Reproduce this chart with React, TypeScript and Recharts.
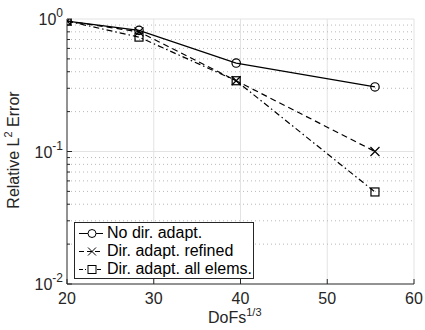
import React from "react";
import { LineChart, Line, XAxis, YAxis, ReferenceLine, Legend } from "recharts";

const dofs = [20, 28.3, 39.5, 55.5];
const noDirAdapt = [0.965, 0.82, 0.465, 0.307];
const dirAdaptRefined = [0.965, 0.8, 0.342, 0.1];
const dirAdaptAll = [0.965, 0.73, 0.342, 0.0495];

const xTicks = [20, 30, 40, 50, 60];
const xGrid = [30, 40, 50];
const yMajor = [0.01, 0.1, 1];
const yMinor = [0.02, 0.03, 0.04, 0.05, 0.06, 0.07, 0.08, 0.09, 0.2, 0.3, 0.4, 0.5, 0.6, 0.7, 0.8, 0.9];
const yTicks = [...yMajor, ...yMinor].sort((a, b) => a - b);

const data = dofs.map((x, i) => ({
  x,
  a: noDirAdapt[i],
  b: dirAdaptRefined[i],
  c: dirAdaptAll[i],
}));

const FONT = "'Liberation Sans', Arial, Helvetica, sans-serif";
const AXIS = "#262626";
const GRID = "#e3e3e3";
const FS = 16;

const CircleDot = (p: any) => (
  <circle key={`a${p.index}`} cx={p.cx} cy={p.cy} r={4.2} fill="none" stroke="#000" strokeWidth={1.2} />
);
const CrossDot = (p: any) => (
  <path
    key={`b${p.index}`}
    d={`M${p.cx - 4.5},${p.cy - 4.5}L${p.cx + 4.5},${p.cy + 4.5}M${p.cx - 4.5},${p.cy + 4.5}L${p.cx + 4.5},${p.cy - 4.5}`}
    stroke="#000"
    strokeWidth={1.2}
    fill="none"
  />
);
const SquareDot = (p: any) => (
  <rect key={`c${p.index}`} x={p.cx - 4} y={p.cy - 4} width={8} height={8} fill="none" stroke="#000" strokeWidth={1.2} />
);

const XTick = (p: any) => {
  const { x, y, payload } = p;
  return (
    <g>
      <line x1={x} y1={y} x2={x} y2={y - 5} stroke={AXIS} strokeWidth={1} />
      <text x={x} y={y + 20} textAnchor="middle" fontFamily={FONT} fontSize={FS} fill="#262626">
        {payload.value}
      </text>
    </g>
  );
};

const YTick = (p: any) => {
  const { x, y, payload } = p;
  const v = payload.value;
  const isMajor = yMajor.some((m) => Math.abs(m - v) < 1e-9);
  const exp = Math.round(Math.log10(v));
  return (
    <g>
      <line x1={x} y1={y} x2={x + (isMajor ? 5 : 3)} y2={y} stroke={AXIS} strokeWidth={1} />
      {isMajor && (
        <text x={x - 4} y={y + 6} textAnchor="end" fontFamily={FONT} fontSize={FS} fill="#262626">
          <tspan>10</tspan>
          <tspan dy={-8} fontSize={12}>{exp}</tspan>
        </text>
      )}
    </g>
  );
};

const LegendContent = () => {
  const rows = [
    { label: "No dir. adapt.", dash: undefined as string | undefined, marker: "circle" },
    { label: "Dir. adapt. refined", dash: "5 3", marker: "cross" },
    { label: "Dir. adapt. all elems.", dash: "4 2 1 2", marker: "square" },
  ];
  return (
    <div
      style={{
        border: "1px solid #262626",
        background: "#fff",
        width: 180,
        height: 57,
        boxSizing: "border-box",
        padding: "1px 0 0 0",
        fontFamily: FONT,
        fontSize: FS,
        color: "#000",
      }}
    >
      {rows.map((r) => (
        <div key={r.label} style={{ display: "flex", alignItems: "center", height: 18, lineHeight: "18px" }}>
          <svg width={32} height={18} style={{ flex: "none" }}>
            <line x1={4} y1={9.5} x2={28} y2={9.5} stroke="#000" strokeWidth={1} strokeDasharray={r.dash} />
            {r.marker === "circle" && <circle cx={17} cy={9.5} r={4} fill="#fff" stroke="#000" />}
            {r.marker === "cross" && (
              <path d="M13,5.5L21,13.5M13,13.5L21,5.5" stroke="#000" fill="none" />
            )}
            {r.marker === "square" && <rect x={13} y={5.5} width={8} height={8} fill="#fff" stroke="#000" />}
          </svg>
          <span style={{ whiteSpace: "nowrap" }}>{r.label}</span>
        </div>
      ))}
    </div>
  );
};

export default function App() {
  return (
    <div style={{ position: "absolute", left: 0, top: 0, width: 425, height: 330, background: "#fff" }}>
      <LineChart width={425} height={330} data={data} margin={{ top: 19, right: 11, bottom: 16, left: 27 }}>
        {xGrid.map((v) => (
          <ReferenceLine key={`gx${v}`} x={v} stroke={GRID} strokeWidth={1} />
        ))}
        {yMinor.map((v) => (
          <ReferenceLine key={`gm${v}`} y={v} stroke="#b8b8b8" strokeWidth={1} strokeDasharray="1 3" />
        ))}
        <ReferenceLine y={0.1} stroke={GRID} strokeWidth={1} />
        <ReferenceLine y={1} stroke={GRID} strokeWidth={1} />
        <ReferenceLine x={60} stroke={GRID} strokeWidth={1} />
        <XAxis
          dataKey="x"
          type="number"
          domain={[20, 60]}
          ticks={xTicks}
          allowDataOverflow
          height={30}
          tickSize={0}
          tickMargin={0}
          tickLine={false}
          stroke={AXIS}
          tick={<XTick />}
          interval={0}
        />
        <YAxis
          type="number"
          scale="log"
          domain={[0.01, 1]}
          ticks={yTicks}
          allowDataOverflow
          width={40}
          tickSize={0}
          tickMargin={0}
          tickLine={false}
          stroke={AXIS}
          tick={<YTick />}
          interval={0}
        />
        <Legend
          layout="vertical"
          align="center"
          verticalAlign="middle"
          wrapperStyle={{ position: "absolute", left: 74, top: 222, width: 182 }}
          content={<LegendContent />}
        />
        <Line dataKey="a" stroke="#000" strokeWidth={1.2} dot={CircleDot} isAnimationActive={false} />
        <Line dataKey="b" stroke="#000" strokeWidth={1.2} strokeDasharray="6 4" dot={CrossDot} isAnimationActive={false} />
        <Line dataKey="c" stroke="#000" strokeWidth={1.2} strokeDasharray="6 3 1.5 3" dot={SquareDot} isAnimationActive={false} />
      </LineChart>
      <div
        style={{
          position: "absolute",
          left: 208,
          top: 309,
          fontFamily: FONT,
          fontSize: FS,
          color: "#262626",
          whiteSpace: "nowrap",
        }}
      >
        DoFs<sup style={{ fontSize: 11, verticalAlign: "7px", lineHeight: 0 }}>1/3</sup>
      </div>
      <div
        style={{
          position: "absolute",
          left: 14,
          top: 150,
          transform: "translate(-50%, -50%) rotate(-90deg)",
          fontFamily: FONT,
          fontSize: FS,
          color: "#262626",
          whiteSpace: "nowrap",
        }}
      >
        Relative L<sup style={{ fontSize: 11, verticalAlign: "7px", lineHeight: 0 }}>2</sup> Error
      </div>
    </div>
  );
}
